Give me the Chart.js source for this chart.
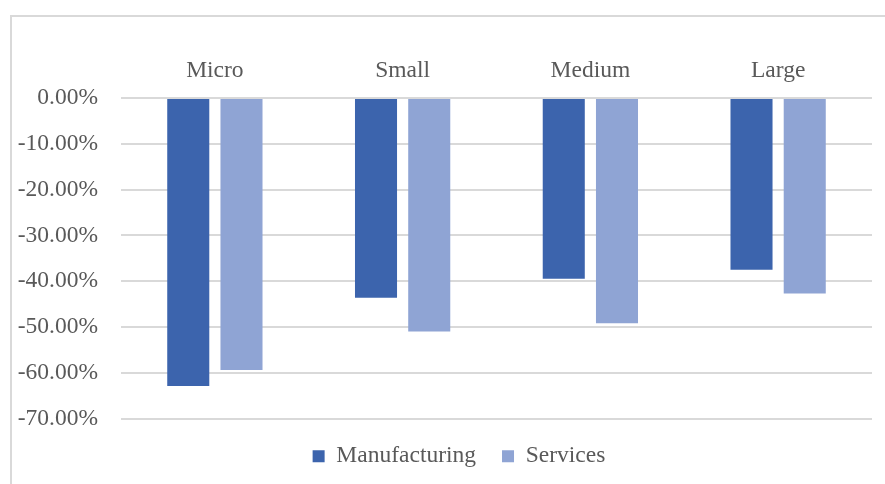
<!DOCTYPE html>
<html>
<head>
<meta charset="utf-8">
<script src="https://cdn.jsdelivr.net/npm/chart.js@4"></script>
<style>
  html, body { margin: 0; padding: 0; background: #fff; overflow: hidden; }
  #frame {
    position: absolute; left: 10px; top: 15px;
    width: 907px; height: 467px;
    border-left: 2px solid #d9d9d9; border-top: 2px solid #d9d9d9;
  }
</style>
</head>
<body>
<div id="frame"><canvas id="chart" width="907" height="462"></canvas></div>
<script>
// ——— data ———
const sizes = ["Micro", "Small", "Medium", "Large"];
const manufacturing = [-62.9, -43.6, -39.5, -37.5];
const services = [-59.4, -51.0, -49.2, -42.7];

const fontFamily = "'Liberation Serif', 'Times New Roman', serif";
const textColor = "#595959";
const gridColor = "#d9d9d9";
const fontSize = 23.5;

const ctx = document.getElementById("chart").getContext("2d");
new Chart(ctx, {
  type: "bar",
  data: {
    labels: sizes,
    datasets: [
      {
        label: "Manufacturing",
        data: manufacturing,
        backgroundColor: "#3c64ad",
        barPercentage: 0.79,
        categoryPercentage: 0.567,
      },
      {
        label: "Services",
        data: services,
        backgroundColor: "#8fa4d4",
        barPercentage: 0.79,
        categoryPercentage: 0.567,
      },
    ],
  },
  options: {
    responsive: false,
    animation: false,
    layout: { padding: { left: 0, right: 13, top: 0, bottom: 1 } },
    scales: {
      x: {
        position: "top",
        grid: { display: false },
        border: { display: false },
        ticks: {
          color: textColor,
          padding: 5,
          font: { family: fontFamily, size: fontSize },
        },
        afterFit: (scale) => { scale.height = 81; },
      },
      y: {
        min: -70,
        max: 0,
        grid: { color: gridColor, lineWidth: 2, drawTicks: false },
        border: { display: false },
        ticks: {
          stepSize: 10,
          color: textColor,
          padding: 23,
          font: { family: fontFamily, size: fontSize },
          callback: (val) => val.toFixed(2) + "%",
        },
        afterFit: (scale) => { scale.width = 109; },
      },
      // empty spacer on the right so the legend sits where the original has it
      spacer: {
        type: "linear",
        position: "right",
        grid: { display: false },
        border: { display: false },
        ticks: { display: false },
        afterFit: (scale) => { scale.width = 34; },
      },
    },
    plugins: {
      tooltip: { enabled: false },
      legend: {
        position: "bottom",
        labels: {
          color: textColor,
          boxWidth: 12,
          boxHeight: 12,
          padding: 26,
          font: { family: fontFamily, size: fontSize },
        },
      },
    },
  },
});
</script>
</body>
</html>
